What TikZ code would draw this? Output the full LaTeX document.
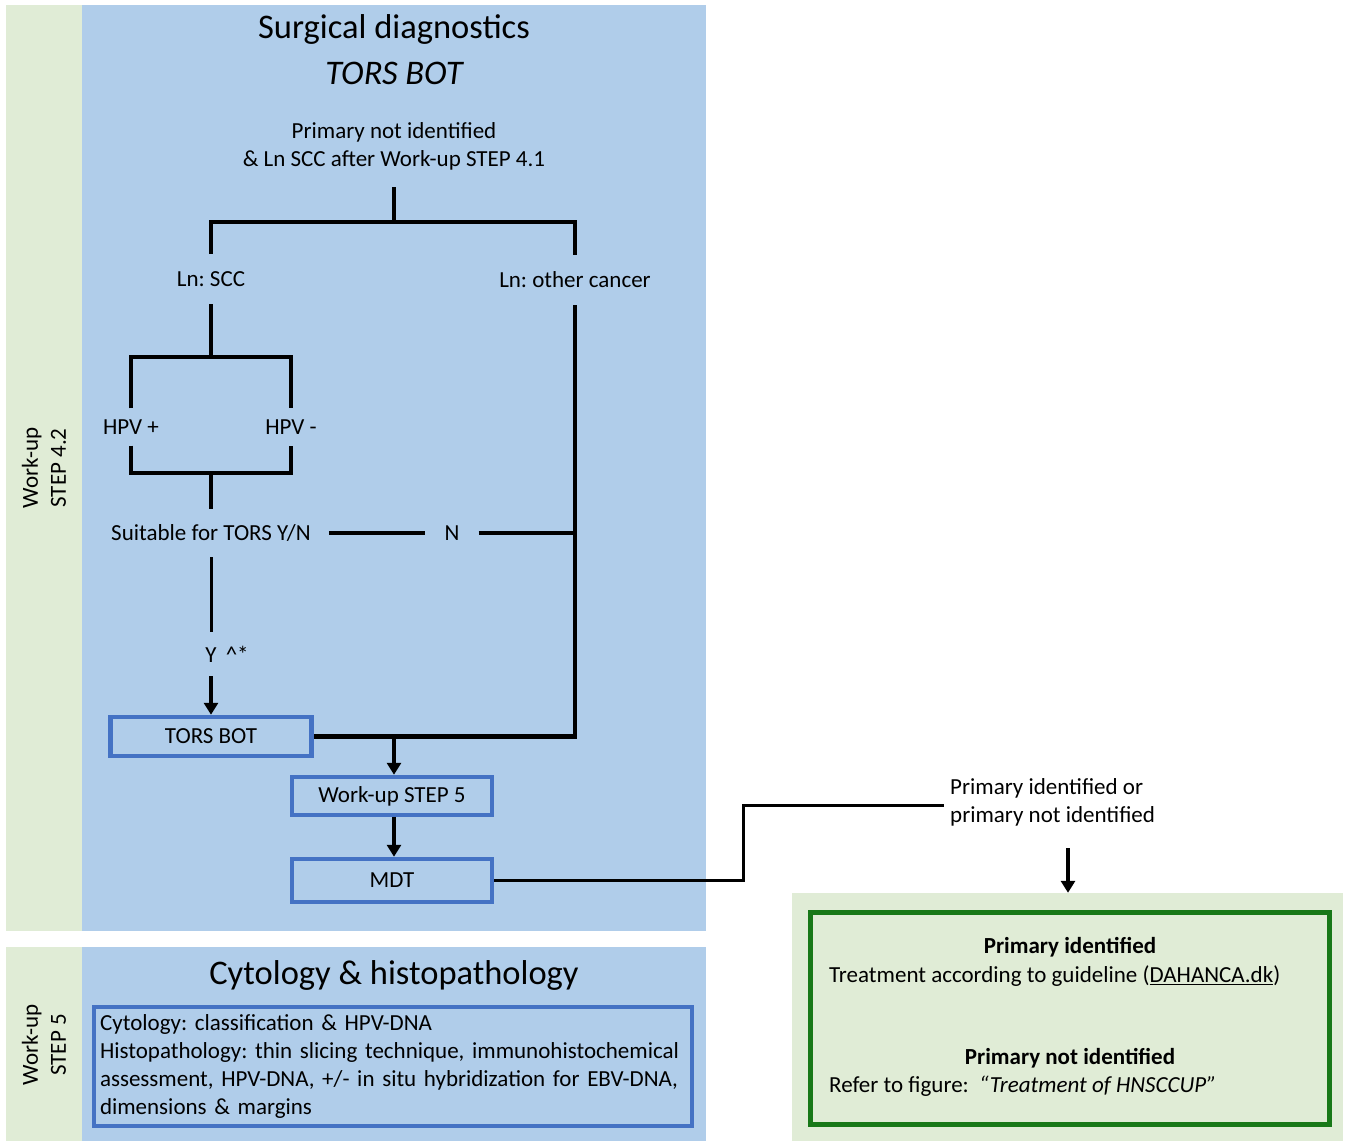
\documentclass[tikz,border=0pt]{standalone}
\usepackage{fontspec}
\setmainfont{Carlito}
\usetikzlibrary{arrows.meta}
\definecolor{bgblue}{RGB}{176,205,234}
\definecolor{bggreen}{RGB}{224,236,214}
\definecolor{boxblue}{RGB}{68,114,196}
\definecolor{boxgreen}{RGB}{24,120,24}
\frenchspacing
\begin{document}
\begin{tikzpicture}[x=1pt,y=-1pt,
  every node/.style={font=\fontsize{23}{28}\selectfont, inner sep=0pt},
  lbl/.style={align=center},
  conn/.style={line width=4.5pt, draw=black},
  thinconn/.style={line width=3pt, draw=black},
  arr/.style={line width=3.5pt, draw=black, -{Triangle[width=14pt,length=12pt]}},
  bbox/.style={draw=boxblue, line width=4.5pt, fill=bgblue},
  title/.style={font=\fontsize{34.5}{40}\selectfont},
  boldtxt/.style={font=\fontsize{23}{28}\selectfont\bfseries}
]
\useasboundingbox (0,0) rectangle (1347,1141);
\fill[white] (0,0) rectangle (1347,1141);
% backgrounds
\fill[bggreen] (6,5) rectangle (82,931);
\fill[bgblue] (82,5) rectangle (706,931);
\fill[bggreen] (6,947) rectangle (82,1141);
\fill[bgblue] (82,947) rectangle (706,1141);

% side labels
\node[rotate=90, align=center] (w1) at (44,468) {Work-up\\STEP 4.2};
\node[rotate=90, align=center] (w2) at (44,1045) {Work-up\\STEP 5};

% titles
\node[title] (t1) at (394,29) {Surgical diagnostics};
\node[title, font=\fontsize{34.5}{40}\selectfont\itshape] (t2) at (394,73) {TORS BOT};

% tree labels
\node[lbl] (prim) at (394,146) {Primary not identified\\\& Ln SCC after Work-up STEP 4.1};
\coordinate (p0) at (394,187);
\coordinate (p1) at (394,222);
\node[minimum height=50pt] (scc) at (211,279) {Ln: SCC};
\node[minimum height=50pt] (oth) at (575,280) {Ln: other cancer};
\coordinate (p2) at (211,357);
\node[minimum height=37pt] (hpvp) at (131,427) {HPV +};
\node[minimum height=37pt] (hpvm) at (291,427) {HPV -};
\coordinate (p3) at (211,473);
\node[minimum height=48pt, inner xsep=18pt] (suit) at (211,533) {Suitable for TORS Y/N};
\node[inner xsep=19pt] (n) at (452,533) {N};
\coordinate (p4) at (575,533);
\node[minimum height=44pt] (yy) at (211,654) {Y\rlap{\hspace{0.4em}\textasciicircum*}};

% connectors of the tree
\draw[conn] (p0) -- (p1);
\draw[conn] (scc.north) |- (p1) -| (oth.north);
\draw[conn] (scc.south) -- (p2);
\draw[conn] (hpvp.north) |- (p2) -| (hpvm.north);
\draw[conn] (hpvp.south) |- (p3) -| (hpvm.south);
\draw[conn] (p3) -- (suit.north);
\draw[conn] (suit.east) -- (n.west);
\draw[conn] (n.east) -- (p4);
\draw[thinconn] (suit.south) -- (yy.north);

% boxes
\node[bbox, minimum width=201pt, minimum height=39pt] (tors) at (211,736.5) {TORS BOT};
\node[bbox, minimum width=200pt, minimum height=38pt] (wu) at (392,796) {Work-up STEP 5};
\node[bbox, minimum width=200pt, minimum height=43pt] (mdt) at (392,880.5) {MDT};
\coordinate (p5) at (394,736);

\draw[conn] (oth.south) |- (tors.east);
\draw[arr] (yy.south) -- (tors.north);
\draw[arr] (p5) -- (p5 |- wu.north);
\draw[arr] (wu.south -| p5) -- (p5 |- mdt.north);

% right part
\node[anchor=west, align=left, inner xsep=6pt] (pi) at (944,802) {Primary identified or\\primary not identified};
\coordinate (c1) at (743,805);
\draw[thinconn] (mdt.east) -| (c1) -- (c1 -| pi.west);

\node[fill=bggreen, minimum width=551pt, minimum height=248pt] (gouter) at (1067.5,1017) {};
\node[draw=boxgreen, line width=5pt, minimum width=519pt, minimum height=212pt] (ginner) at (1070,1018.5) {};
\coordinate (a0) at (1068,848);
\draw[arr] (a0) -- (a0 |- gouter.north);

\node[boldtxt] (g1) at (1070,947) {Primary identified};
\node[anchor=west] (g2) at (829,976) {Treatment according to guideline (\underline{DAHANCA.dk})};
\node[boldtxt] (g3) at (1070,1058) {Primary not identified};
\node[anchor=west] (g4) at (829,1086) {Refer to figure:\ \ \textit{“Treatment of HNSCCUP”}};

% bottom section
\node[title] (cy) at (394,975) {Cytology \& histopathology};
\node[bbox, text width=586pt, inner xsep=6pt, inner ysep=0pt, minimum height=119pt, align=left] (cbox) at (393,1066.5) {Cytology: classification \& HPV-DNA\\Histopathology: thin slicing technique, immunohistochemical\\assessment, HPV-DNA, +/- in situ hybridization for EBV-DNA,\\dimensions \& margins};
\end{tikzpicture}
\end{document}
